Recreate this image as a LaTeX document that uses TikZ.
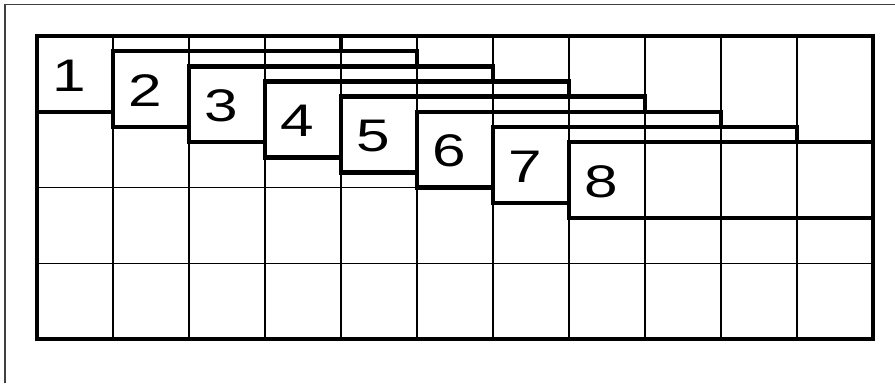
\documentclass[tikz,border=0pt]{standalone}
\usepackage{fontspec}
\setmainfont{Liberation Sans}
\begin{document}
\begin{tikzpicture}[x=0.03cm,y=-0.03cm,
  thinline/.style={line width=1.2pt},
  thickline/.style={line width=3.8pt},
  frameline/.style={line width=1.3pt, black!75},
  num/.style={inner sep=0pt, font=\fontsize{39}{42}\selectfont}]
\useasboundingbox (0,0) rectangle (895,383);
\def\cw{76}\def\gx{37}\def\gy{36}\def\rh{75.8}\def\dd{15.16}
% outer frame (top and left only)
\draw[frameline] (5,383) -- (5,4.5) -- (895,4.5);
% thin grid lines
\foreach \k in {1,...,10}
  \draw[thinline] ({\gx+\k*\cw},\gy) -- ({\gx+\k*\cw},{\gy+4*\rh});
\draw[thinline] (\gx,{\gy+2*\rh}) -- ({\gx+5*\cw},{\gy+2*\rh});
\draw[thinline] (\gx,{\gy+3*\rh}) -- ({\gx+11*\cw},{\gy+3*\rh});
% staircase of windows
\foreach \i in {1,...,7} {
  \draw[thickline] ({\gx+\i*\cw},{\gy+(\i+4)*\dd})
    -- ({\gx+(\i-1)*\cw},{\gy+(\i+4)*\dd})
    -- ({\gx+(\i-1)*\cw},{\gy+(\i-1)*\dd})
    -- ({\gx+(\i+3)*\cw},{\gy+(\i-1)*\dd})
    -- ({\gx+(\i+3)*\cw},{\gy+\i*\dd});
}
\draw[thickline] ({\gx+7*\cw},{\gy+7*\dd}) rectangle ({\gx+11*\cw},{\gy+12*\dd});
% grid border
\draw[thickline] (\gx,\gy) rectangle ({\gx+11*\cw},{\gy+4*\rh});
% numbers
\foreach \i in {1,...,8}
  \node[num] (n\i) at ({\gx+(\i-1)*\cw+32},{\gy+(\i-1)*\dd+2.5*\dd+1.5}) {\scalebox{1.32}[1]{\i}};
\end{tikzpicture}
\end{document}
